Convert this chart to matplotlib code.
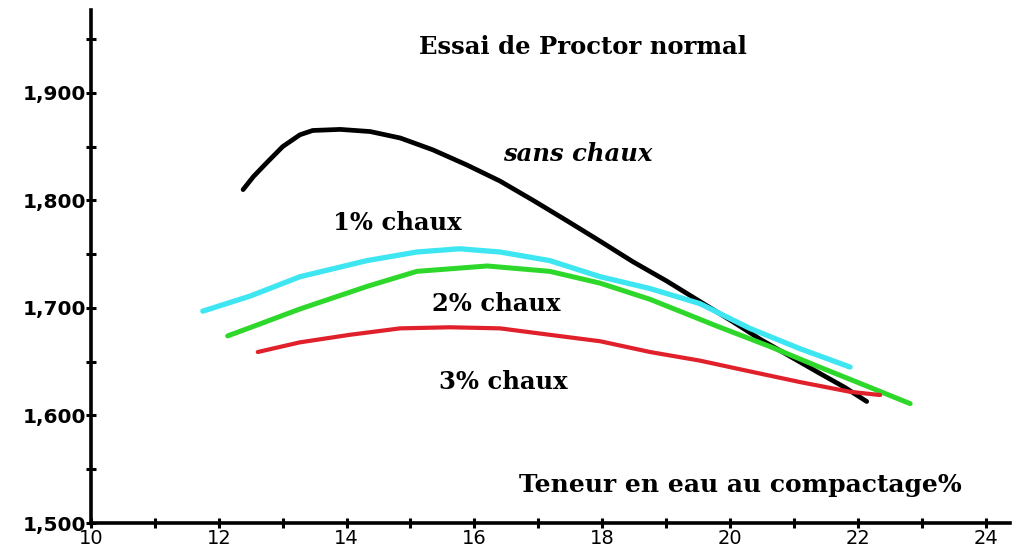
import matplotlib.pyplot as plt
from matplotlib.ticker import FixedLocator, MultipleLocator

# teneur en eau (%) / densite seche
x_sans = [12.38, 12.54, 12.75, 13.00, 13.27, 13.47, 13.90, 14.37, 14.84, 15.35, 15.88, 16.40,
          16.92, 17.45, 17.97, 18.48, 19.01, 19.53, 20.05, 20.47, 20.94, 21.41, 21.80, 22.14]
y_sans = [1.810, 1.822, 1.835, 1.850, 1.861, 1.865, 1.866, 1.864, 1.858, 1.847, 1.833, 1.818,
          1.800, 1.781, 1.762, 1.743, 1.725, 1.706, 1.687, 1.671, 1.655, 1.639, 1.626, 1.613]

x_1 = [11.75, 12.49, 13.27, 14.32, 15.10, 15.77, 16.40, 17.18, 17.97, 18.75, 19.53, 20.31, 21.10, 21.88]
y_1 = [1.697, 1.711, 1.729, 1.744, 1.752, 1.755, 1.752, 1.744, 1.729, 1.718, 1.704, 1.681, 1.662, 1.645]

x_2 = [12.14, 12.64, 13.27, 14.32, 15.10, 16.20, 17.18, 17.97, 18.75, 19.80, 20.63, 21.36, 22.03, 22.82]
y_2 = [1.674, 1.685, 1.699, 1.720, 1.734, 1.739, 1.734, 1.723, 1.708, 1.683, 1.664, 1.646, 1.630, 1.611]

x_3 = [12.61, 13.27, 14.05, 14.84, 15.62, 16.40, 17.18, 17.97, 18.75, 19.53, 20.31, 21.10, 21.88, 22.35]
y_3 = [1.659, 1.668, 1.675, 1.681, 1.682, 1.681, 1.675, 1.669, 1.659, 1.651, 1.641, 1.631, 1.622, 1.619]

yticks = [1.5, 1.6, 1.7, 1.8, 1.9]
ylabels = ["1,500", "1,600", "1,700", "1,800", "1,900"]
xticks = [10, 12, 14, 16, 18, 20, 22, 24]

fig = plt.figure(figsize=(10.19, 5.51), dpi=100)
ax = fig.add_axes([0.0893, 0.0508, 0.9017, 0.931])

ax.plot(x_sans, y_sans, color="black", lw=3.4, solid_capstyle="round", solid_joinstyle="round")
ax.plot(x_1, y_1, color="#3ee6f2", lw=3.8, solid_capstyle="round", solid_joinstyle="round")
ax.plot(x_2, y_2, color="#2ed82a", lw=3.6, solid_capstyle="round", solid_joinstyle="round")
ax.plot(x_3, y_3, color="#e0202a", lw=3.0, solid_capstyle="round", solid_joinstyle="round")

ax.set_xlim(10, 24.38)
ax.set_ylim(1.5, 1.977)

for s in ["top", "right"]:
    ax.spines[s].set_visible(False)
for s in ["left", "bottom"]:
    ax.spines[s].set_linewidth(2.6)

ax.yaxis.set_major_locator(FixedLocator(yticks))
ax.set_yticklabels(ylabels)
ax.yaxis.set_minor_locator(MultipleLocator(0.05))
ax.xaxis.set_major_locator(FixedLocator(xticks))
ax.xaxis.set_minor_locator(MultipleLocator(1))
ax.tick_params(axis="both", which="both", direction="inout", width=2.2, length=7)
ax.tick_params(axis="y", labelsize=14.5, pad=0)
ax.tick_params(axis="x", labelsize=14, pad=1)
for t in ax.get_yticklabels():
    t.set_fontweight("bold")

serif = dict(family="DejaVu Serif", fontweight="bold")
ax.text(17.70, 1.943, "Essai de Proctor normal", ha="center", va="center", fontsize=17.5, **serif)
ax.text(16.45, 1.843, "sans chaux", ha="left", va="center", fontsize=17.5, style="italic", **serif)
ax.text(14.80, 1.779, "1% chaux", ha="center", va="center", fontsize=17.5, **serif)
ax.text(16.35, 1.704, "2% chaux", ha="center", va="center", fontsize=17.5, **serif)
ax.text(16.46, 1.631, "3% chaux", ha="center", va="center", fontsize=17.5, **serif)
ax.text(20.16, 1.535, "Teneur en eau au compactage%", ha="center", va="center", fontsize=18, **serif)

plt.savefig("out.png", dpi=100)
